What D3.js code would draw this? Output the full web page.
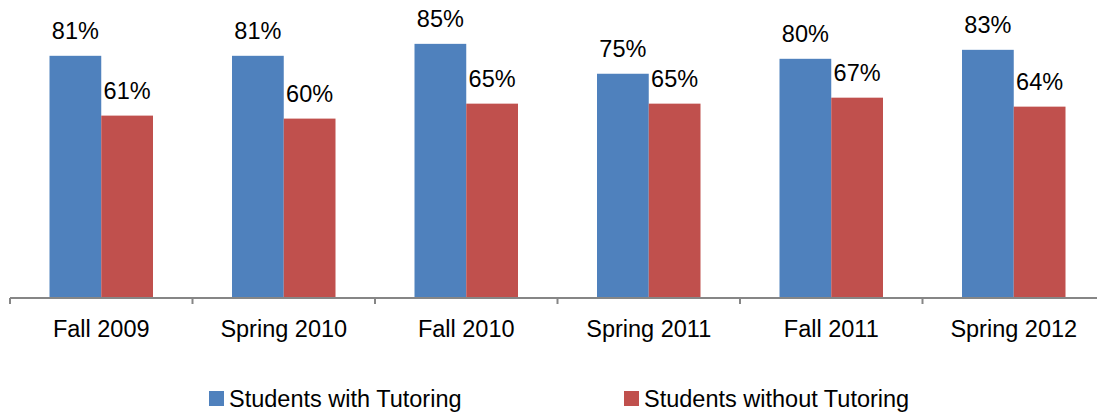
<!DOCTYPE html>
<html><head><meta charset="utf-8">
<script src="https://cdn.jsdelivr.net/npm/d3@7"></script>
<style>body{margin:0;background:#fff}svg{display:block}text{font-family:"Liberation Sans",Arial,sans-serif;fill:#000}</style>
</head><body>
<svg id="c" width="1097" height="416"></svg>
<script>
const categories = ["Fall 2009","Spring 2010","Fall 2010","Spring 2011","Fall 2011","Spring 2012"];
const seriesNames = ["Students with Tutoring","Students without Tutoring"];
const withTutoring = [81,81,85,75,80,83];
const withoutTutoring = [61,60,65,65,67,64];
const colors = ["#4F81BD","#C0504D"];

const svg = d3.select("#c");
const baseY = 298;
const x0 = d3.scaleBand().domain(categories).range([10, 10 + 6*182.5]).padding(0);
const x1 = d3.scaleBand().domain(seriesNames).range([39.5, 143]).padding(0);
const y = d3.scaleLinear().domain([0,100]).range([baseY, baseY - 299]);

const data = categories.map((c,i)=>({cat:c, vals:[withTutoring[i], withoutTutoring[i]]}));

const g = svg.selectAll("g.cat").data(data).enter().append("g")
  .attr("transform", d=>`translate(${x0(d.cat)},0)`);

g.selectAll("rect").data(d=>d.vals.map((v,j)=>({v, s:seriesNames[j], j})))
  .enter().append("rect")
  .attr("x", d=>x1(d.s)).attr("width", x1.bandwidth())
  .attr("y", d=>y(d.v)).attr("height", d=>baseY - y(d.v))
  .attr("fill", d=>colors[d.j]);

g.selectAll("text.lbl").data(d=>d.vals.map((v,j)=>({v, s:seriesNames[j]})))
  .enter().append("text").attr("class","lbl")
  .attr("x", d=>x1(d.s)+x1.bandwidth()/2)
  .attr("y", d=>y(d.v)-16.5)
  .attr("text-anchor","middle").style("font-size","23.5px")
  .text(d=>d.v+"%");

// axis
const axis = d3.axisBottom(x0).tickSize(0).tickPadding(0);
const ax = svg.append("g").attr("transform",`translate(0,${baseY})`).call(axis);
ax.select(".domain").remove();
ax.selectAll("text").attr("y", 39.3).attr("dy",0).style("font-size","23.5px").style("fill","#000")
  .attr("font-family",null);
svg.append("line").attr("x1",10).attr("x2",1097).attr("y1",baseY).attr("y2",baseY)
  .attr("stroke","#868686").attr("stroke-width",2);
const bounds = categories.map(c=>x0(c));
svg.selectAll("line.tick").data(bounds).enter().append("line")
  .attr("x1",d=>d).attr("x2",d=>d).attr("y1",baseY).attr("y2",baseY+6)
  .attr("stroke","#868686").attr("stroke-width",2);

// legend
const legX = [209, 624];
const lg = svg.selectAll("g.leg").data(seriesNames).enter().append("g")
  .attr("transform",(d,i)=>`translate(${legX[i]},391)`);
lg.append("rect").attr("width",15).attr("height",15).attr("fill",(d,i)=>colors[i]);
lg.append("text").attr("x",20).attr("y",15.5).style("font-size","23.5px").text(d=>d);
</script>
</body></html>
